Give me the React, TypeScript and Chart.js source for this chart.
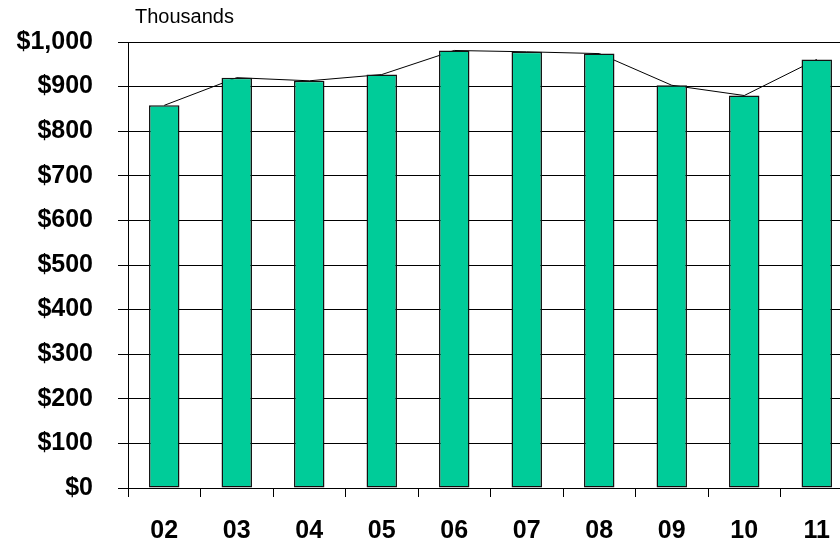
import React, { useEffect, useRef } from "react";
import { Chart, registerables } from "chart.js";

Chart.register(...registerables);

const categories = ["02", "03", "04", "05", "06", "07", "08", "09", "10", "11"];
const values = [858, 920, 913, 927, 981, 978, 974, 903, 880, 961];
const yTickLabels = ["$0", "$100", "$200", "$300", "$400", "$500", "$600", "$700", "$800", "$900", "$1,000"];
const unitLabel = "Thousands";

const FONT = "'Liberation Sans', Arial, Helvetica, sans-serif";

export default function App() {
  const ref = useRef<HTMLCanvasElement | null>(null);

  useEffect(() => {
    if (!ref.current) return;
    const unitPlugin = {
      id: "unitLabel",
      afterDraw(chart: any) {
        const ctx = chart.ctx;
        ctx.save();
        ctx.font = `20px ${FONT}`;
        ctx.fillStyle = "#000";
        ctx.textAlign = "left";
        ctx.textBaseline = "alphabetic";
        ctx.fillText(unitLabel, 135, 23);
        ctx.restore();
      },
    };
    const chart = new Chart(ref.current, {
      type: "bar",
      data: {
        labels: categories,
        datasets: [
          {
            type: "bar",
            data: values,
            backgroundColor: "#00CC99",
            borderColor: "#111",
            borderWidth: 1.5,
            borderSkipped: false,
            barPercentage: 0.42,
            categoryPercentage: 1,
            order: 0,
          } as any,
          {
            type: "line",
            data: values,
            borderColor: "#000",
            borderWidth: 1,
            pointRadius: 0,
            tension: 0,
            fill: false,
            order: 1,
          } as any,
        ],
      },
      options: {
        responsive: false,
        animation: false,
        devicePixelRatio: 1,
        layout: { padding: { top: 42, right: 7, left: 0, bottom: 0 } },
        plugins: {
          legend: { display: false },
          tooltip: { enabled: false },
          title: { display: false },
        },
        scales: {
          x: {
            type: "category",
            offset: true,
            grid: {
              offset: true,
              drawOnChartArea: false,
              drawTicks: true,
              tickLength: 9,
              color: "#000",
              lineWidth: 1,
            },
            border: { display: true, color: "#000", width: 1 },
            ticks: {
              color: "#000",
              padding: 19,
              maxRotation: 0,
              autoSkip: false,
              font: { family: FONT, size: 25, weight: "bold" },
            },
            afterFit(scale: any) {
              scale.height = 55;
            },
          },
          y: {
            min: 0,
            max: 1000,
            grid: {
              drawOnChartArea: true,
              drawTicks: true,
              tickLength: 10,
              color: "#000",
              lineWidth: 1,
            },
            border: { display: true, color: "#000", width: 1 },
            ticks: {
              stepSize: 100,
              color: "#000",
              padding: 25,
              font: { family: FONT, size: 25, weight: "bold" },
              callback: (_v: any, i: number) => yTickLabels[i],
            },
            afterFit(scale: any) {
              scale.width = 128;
            },
          },
        },
      } as any,
      plugins: [unitPlugin],
    });
    return () => chart.destroy();
  }, []);

  return (
    <div
      style={{
        position: "absolute",
        left: 0,
        top: 0,
        width: 840,
        height: 543,
        overflow: "hidden",
        background: "#fff",
      }}
    >
      <canvas ref={ref} width={860} height={543} style={{ width: 860, height: 543, display: "block" }} />
    </div>
  );
}
